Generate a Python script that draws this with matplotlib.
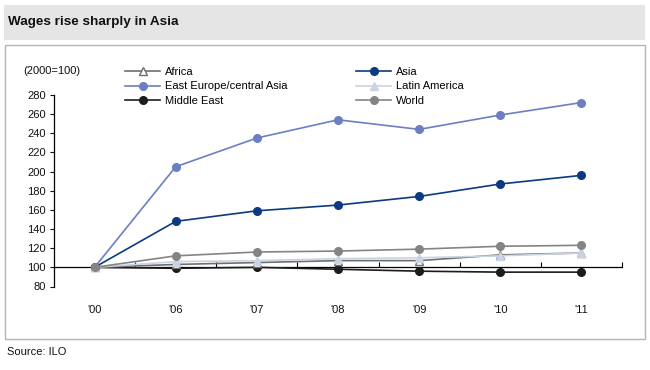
import matplotlib
matplotlib.use("Agg")
import matplotlib.pyplot as plt
from matplotlib.patches import Rectangle

plt.rcParams['font.family'] = ['Liberation Sans', 'DejaVu Sans']

categories = ["'00", "'06", "'07", "'08", "'09", "'10", "'11"]
africa = [100, 103, 105, 107, 107, 113, 115]
asia = [100, 148, 159, 165, 174, 187, 196]
east_europe = [100, 205, 235, 254, 244, 259, 272]
latin_america = [100, 106, 107, 109, 110, 112, 115]
middle_east = [100, 99, 100, 98, 96, 95, 95]
world = [100, 112, 116, 117, 119, 122, 123]
yticks = [80, 100, 120, 140, 160, 180, 200, 220, 240, 260, 280]

W, H = 650, 370
fig = plt.figure(figsize=(6.5, 3.7), dpi=100)

def fx(px):
    return px / W

def fy(py):
    return 1 - py / H

# title band
fig.patches.append(Rectangle((fx(4), fy(40)), fx(641), 35 / H, transform=fig.transFigure,
                             facecolor='#e5e5e5', edgecolor='none', zorder=-2))
fig.text(fx(8), fy(22), 'Wages rise sharply in Asia', fontsize=9.7, fontweight='bold',
         va='center', ha='left', color='#111111')
# chart border box
fig.patches.append(Rectangle((fx(5), fy(339)), fx(640), 294 / H, transform=fig.transFigure,
                             facecolor='none', edgecolor='#b5b5b5', linewidth=1.0, zorder=-1))
fig.text(fx(7), fy(352), 'Source: ILO', fontsize=8, va='center', ha='left', color='#111111')
fig.text(fx(52), fy(71), '(2000=100)', fontsize=8, va='center', ha='center', color='#111111')

ax = fig.add_axes([fx(54), fy(286.5), fx(622 - 54), (286.5 - 94.9) / H])
ax.set_facecolor('none')
x = list(range(len(categories)))

ms = 5.5
series = [
    ('Asia', asia, dict(color='#0b3a80', marker='o', markersize=ms)),
    ('East Europe/central Asia', east_europe, dict(color='#6b7fc2', marker='o', markersize=ms)),
    ('Middle East', middle_east, dict(color='#1c1c1c', marker='o', markersize=ms)),
    ('Africa', africa, dict(color='#6e6e6e', marker='^', markersize=ms, markerfacecolor='white',
                            markeredgecolor='#6e6e6e')),
    ('Latin America', latin_america, dict(color='#c9d3e2', marker='^', markersize=ms)),
    ('World', world, dict(color='#848484', marker='o', markersize=ms)),
]
handles = {}
for name, vals, st in series:
    (ln,) = ax.plot(x, vals, linewidth=1.2, label=name, zorder=3, clip_on=False, **st)
    handles[name] = ln

ax.set_xlim(-0.5, len(categories) - 0.5)
ax.set_ylim(80, 280)
ax.set_yticks(yticks)
ax.set_yticklabels([str(v) for v in yticks])
ax.tick_params(axis='y', direction='out', length=3, width=0.8, pad=3, labelsize=8, colors='#111111')

for s in ['top', 'right']:
    ax.spines[s].set_visible(False)
ax.spines['left'].set_linewidth(0.9)
ax.spines['bottom'].set_position(('data', 100))
ax.spines['bottom'].set_linewidth(0.9)

ax.set_xticks([i + 0.5 for i in range(len(categories))])
ax.set_xticklabels([])
ax.tick_params(axis='x', which='major', direction='in', length=3.5, width=0.8)
ax.set_xticks(x, minor=True)
ax.set_xticklabels(categories, minor=True)
ax.tick_params(axis='x', which='minor', length=0, pad=27, labelsize=8, colors='#111111')

leg_kw = dict(frameon=False, fontsize=8, handlelength=3.15, handletextpad=0.45,
              labelspacing=0.4, borderpad=0, borderaxespad=0, loc='upper left')
col1 = ['Africa', 'East Europe/central Asia', 'Middle East']
col2 = ['Asia', 'Latin America', 'World']
l1 = fig.legend([handles[n] for n in col1], col1, bbox_to_anchor=(fx(125), fy(67)), **leg_kw)
l2 = fig.legend([handles[n] for n in col2], col2, bbox_to_anchor=(fx(356), fy(67)), **leg_kw)

fig.savefig('out.png', dpi=100)
